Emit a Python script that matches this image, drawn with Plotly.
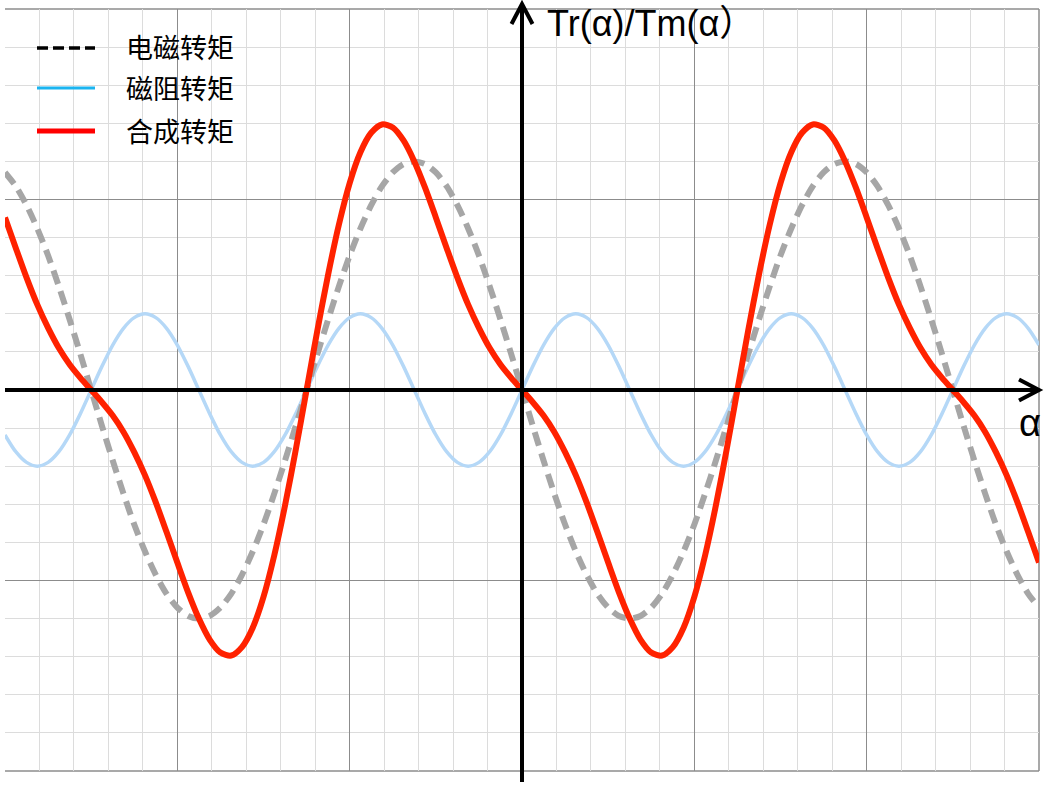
import plotly.graph_objects as go

# ---------------- data ----------------
alpha = [-15, -14.6875, -14.375, -14.0625, -13.75, -13.4375, -13.125, -12.8125,
         -12.5, -12.1875, -11.875, -11.5625, -11.25, -10.9375, -10.625, -10.3125,
         -10, -9.6875, -9.375, -9.0625, -8.75, -8.4375, -8.125, -7.8125,
         -7.5, -7.1875, -6.875, -6.5625, -6.25, -5.9375, -5.625, -5.3125,
         -5, -4.6875, -4.375, -4.0625, -3.75, -3.4375, -3.125, -2.8125,
         -2.5, -2.1875, -1.875, -1.5625, -1.25, -0.9375, -0.625, -0.3125,
         0, 0.3125, 0.625, 0.9375, 1.25, 1.5625, 1.875, 2.1875,
         2.5, 2.8125, 3.125, 3.4375, 3.75, 4.0625, 4.375, 4.6875,
         5, 5.3125, 5.625, 5.9375, 6.25, 6.5625, 6.875, 7.1875,
         7.5, 7.8125, 8.125, 8.4375, 8.75, 9.0625, 9.375, 9.6875,
         10, 10.3125, 10.625, 10.9375, 11.25, 11.5625, 11.875, 12.1875,
         12.5, 12.8125, 13.125, 13.4375, 13.75, 14.0625, 14.375, 14.6875,
         15]

# 电磁转矩 (electromagnetic torque)
em_torque = [5.71, 5.35, 4.85, 4.24, 3.53, 2.72, 1.85, 0.94,
             0, -0.94, -1.85, -2.72, -3.53, -4.24, -4.85, -5.35,
             -5.71, -5.93, -6, -5.93, -5.71, -5.35, -4.85, -4.24,
             -3.53, -2.72, -1.85, -0.94, 0, 0.94, 1.85, 2.72,
             3.53, 4.24, 4.85, 5.35, 5.71, 5.93, 6, 5.93,
             5.71, 5.35, 4.85, 4.24, 3.53, 2.72, 1.85, 0.94,
             0, -0.94, -1.85, -2.72, -3.53, -4.24, -4.85, -5.35,
             -5.71, -5.93, -6, -5.93, -5.71, -5.35, -4.85, -4.24,
             -3.53, -2.72, -1.85, -0.94, 0, 0.94, 1.85, 2.72,
             3.53, 4.24, 4.85, 5.35, 5.71, 5.93, 6, 5.93,
             5.71, 5.35, 4.85, 4.24, 3.53, 2.72, 1.85, 0.94,
             0, -0.94, -1.85, -2.72, -3.53, -4.24, -4.85, -5.35,
             -5.71]

# 磁阻转矩 (reluctance torque)
rel_torque = [-1.18, -1.62, -1.90, -2, -1.90, -1.62, -1.18, -0.62,
              0, 0.62, 1.18, 1.62, 1.90, 2, 1.90, 1.62,
              1.18, 0.62, 0, -0.62, -1.18, -1.62, -1.90, -2,
              -1.90, -1.62, -1.18, -0.62, 0, 0.62, 1.18, 1.62,
              1.90, 2, 1.90, 1.62, 1.18, 0.62, 0, -0.62,
              -1.18, -1.62, -1.90, -2, -1.90, -1.62, -1.18, -0.62,
              0, 0.62, 1.18, 1.62, 1.90, 2, 1.90, 1.62,
              1.18, 0.62, 0, -0.62, -1.18, -1.62, -1.90, -2,
              -1.90, -1.62, -1.18, -0.62, 0, 0.62, 1.18, 1.62,
              1.90, 2, 1.90, 1.62, 1.18, 0.62, 0, -0.62,
              -1.18, -1.62, -1.90, -2, -1.90, -1.62, -1.18, -0.62,
              0, 0.62, 1.18, 1.62, 1.90, 2, 1.90, 1.62,
              1.18]

# 合成转矩 (resultant torque)
sum_torque = [4.53, 3.73, 2.95, 2.24, 1.63, 1.10, 0.67, 0.32,
              0, -0.32, -0.67, -1.10, -1.63, -2.24, -2.95, -3.73,
              -4.53, -5.31, -6, -6.55, -6.89, -6.97, -6.75, -6.24,
              -5.43, -4.34, -3.03, -1.56, 0, 1.56, 3.03, 4.34,
              5.43, 6.24, 6.75, 6.97, 6.89, 6.55, 6, 5.31,
              4.53, 3.73, 2.95, 2.24, 1.63, 1.10, 0.67, 0.32,
              0, -0.32, -0.67, -1.10, -1.63, -2.24, -2.95, -3.73,
              -4.53, -5.31, -6, -6.55, -6.89, -6.97, -6.75, -6.24,
              -5.43, -4.34, -3.03, -1.56, 0, 1.56, 3.03, 4.34,
              5.43, 6.24, 6.75, 6.97, 6.89, 6.55, 6, 5.31,
              4.53, 3.73, 2.95, 2.24, 1.63, 1.10, 0.67, 0.32,
              0, -0.32, -0.67, -1.10, -1.63, -2.24, -2.95, -3.73,
              -4.53]

legend_names = ["电磁转矩", "磁阻转矩", "合成转矩"]
y_label = "Tr(α)/Tm(α）"
x_label = "α"

# ---------------- layout helpers ----------------
W, H = 1061, 785
ML, MR, MT, MB = 5, 22, 9, 14
PW = W - ML - MR
PH = H - MT - MB


def fx(px):
    return (px - ML) / PW


def fy(py):
    return (H - MB - py) / PH


fig = go.Figure()

fig.add_trace(go.Scatter(
    x=alpha, y=rel_torque, mode="lines", showlegend=False,
    line=dict(color="#b5d8f7", width=3.5, shape="spline", smoothing=0.8)))
fig.add_trace(go.Scatter(
    x=alpha, y=em_torque, mode="lines", showlegend=False,
    line=dict(color="#a6a6a6", width=6, dash="14px,8px", shape="spline", smoothing=0.8)))
fig.add_trace(go.Scatter(
    x=alpha, y=sum_torque, mode="lines", showlegend=False,
    line=dict(color="#ff2200", width=6, shape="spline", smoothing=0.8)))

shapes = []
MAJ = dict(color="#8c8c8c", width=1.5)
# outer grid border (top, bottom, right)
shapes.append(dict(type="line", xref="paper", yref="paper", x0=0, x1=1, y0=1, y1=1, line=MAJ, layer="below"))
shapes.append(dict(type="line", xref="paper", yref="paper", x0=0, x1=1, y0=0, y1=0, line=MAJ, layer="below"))
shapes.append(dict(type="line", xref="paper", yref="paper", x0=1, x1=1, y0=0, y1=1, line=MAJ, layer="below"))

AX = dict(color="black", width=4)
# x axis with arrow
shapes.append(dict(type="line", xref="paper", yref="paper", x0=fx(5), x1=fx(1039),
                   y0=0.5, y1=0.5, line=AX, layer="above"))
shapes.append(dict(type="path", xref="paper", yref="paper", layer="above", line=AX,
                   path=f"M{fx(1019)},{fy(379.5)} L{fx(1039)},{fy(390)} L{fx(1019)},{fy(400.5)}"))
# y axis with arrow
shapes.append(dict(type="line", xref="paper", yref="paper", x0=0.5, x1=0.5,
                   y0=fy(782), y1=fy(4), line=AX, layer="above"))
shapes.append(dict(type="path", xref="paper", yref="paper", layer="above", line=AX,
                   path=f"M{fx(511.5)},{fy(24)} L{fx(522)},{fy(4)} L{fx(532.5)},{fy(24)}"))

# manual legend
leg_y = [48, 88, 131]
leg_lines = [dict(color="black", width=3.5, dash="11px,5px"),
             dict(color="#1ab4f0", width=3),
             dict(color="#ff0000", width=5)]
for yy, ln in zip(leg_y, leg_lines):
    shapes.append(dict(type="line", xref="paper", yref="paper", x0=fx(37), x1=fx(95),
                       y0=fy(yy), y1=fy(yy), line=ln, layer="above"))

annotations = []
for yy, name in zip(leg_y, legend_names):
    annotations.append(dict(xref="paper", yref="paper", x=fx(124), y=fy(yy - 1),
                            xanchor="left", yanchor="middle", showarrow=False,
                            text=name, font=dict(family="Noto Sans CJK SC", size=27, color="black")))

annotations.append(dict(xref="paper", yref="paper", x=fx(545), y=fy(23),
                        xanchor="left", yanchor="middle", showarrow=False, text=y_label,
                        font=dict(family="Liberation Sans, Noto Sans CJK SC", size=36, color="black")))
annotations.append(dict(xref="paper", yref="paper", x=fx(1030), y=fy(423),
                        xanchor="center", yanchor="middle", showarrow=False, text=x_label,
                        font=dict(family="Liberation Sans, Noto Sans CJK SC", size=38, color="black")))

axis_common = dict(showticklabels=False, ticks="", zeroline=False, showline=False,
                   showgrid=True, gridcolor="#8c8c8c", gridwidth=1.3,
                   tick0=0, dtick=5,
                   minor=dict(dtick=1, showgrid=True, gridcolor="#dcdcdc", gridwidth=1, ticks=""))

fig.update_layout(
    width=W, height=H,
    margin=dict(l=ML, r=MR, t=MT, b=MB, pad=0),
    paper_bgcolor="white", plot_bgcolor="white",
    xaxis=dict(range=[-15, 15], **axis_common),
    yaxis=dict(range=[-10, 10], **axis_common),
    shapes=shapes, annotations=annotations, showlegend=False,
)

fig.write_html("out.html", config={"displayModeBar": False},
               post_script="document.body.style.margin='0';")
